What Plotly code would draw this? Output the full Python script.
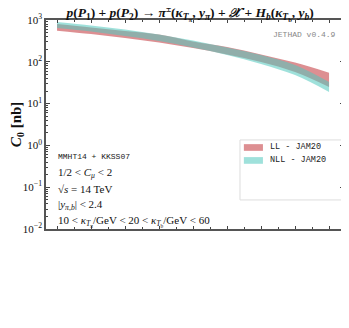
import plotly.graph_objects as go

# rapidity separation (x axis, labels not shown in the reference)
dy = [1.0, 1.5, 2.0, 2.5, 3.0, 3.5, 4.0, 4.5, 5.0]

# C0 bands [nb]
ll_upper = [802, 662, 546, 450, 306, 226, 150, 96, 55]
ll_lower = [555, 462, 371, 290, 214, 150, 99, 57, 25]
nll_upper = [896, 738, 593, 450, 323, 220, 146, 84, 33]
nll_lower = [644, 531, 414, 315, 220, 146, 89, 48, 19]

series_names = ["LL - JAM20", "NLL - JAM20"]

y_tickvals = [1e-2, 1e-1, 1, 10, 100, 1000]
y_ticktext = ["10<sup>−2</sup>", "10<sup>−1</sup>", "10<sup>0</sup>",
              "10<sup>1</sup>", "10<sup>2</sup>", "10<sup>3</sup>"]

info_lines = [
    "1/2 < <i>C<sub>μ</sub></i> < 2",
    "√<i>s</i> = 14 TeV",
    "|<i>y</i><sub><i>π</i>,<i>b</i></sub>| < 2.4",
    "10 < <i>κ</i><sub><i>T</i><sub>π</sub></sub>/GeV < 20 < <i>κ</i><sub><i>T</i><sub>b</sub></sub>/GeV < 60",
]

SERIF = "Liberation Serif"
MONO = "Liberation Mono"
RED = "rgba(205,90,95,0.68)"
TEAL = "rgba(80,200,190,0.55)"
colors = [RED, TEAL]

fig = go.Figure()
for name, up, lo, col in zip(series_names, [ll_upper, nll_upper], [ll_lower, nll_lower], colors):
    fig.add_trace(go.Scatter(x=dy, y=lo, mode="lines", line=dict(width=0, shape="spline"),
                             showlegend=False, hoverinfo="skip"))
    fig.add_trace(go.Scatter(x=dy, y=up, mode="lines", line=dict(width=0, shape="spline"),
                             fill="tonexty", fillcolor=col, name=name, showlegend=False))

fig.add_annotation(text="MMHT14 + KKSS07", x=0.035, y=0.345, xref="paper", yref="paper",
                   xanchor="left", yanchor="middle", showarrow=False,
                   font=dict(family=MONO, size=8, color="#222"))
for i, t in enumerate(info_lines):
    fig.add_annotation(text=t, x=0.035, y=0.268 - i * 0.077, xref="paper", yref="paper",
                       xanchor="left", yanchor="middle", showarrow=False,
                       font=dict(family=SERIF, size=11, color="#111"))

fig.add_annotation(text="JETHAD v0.4.9", x=0.98, y=0.93, xref="paper", yref="paper",
                   xanchor="right", yanchor="middle", showarrow=False,
                   font=dict(family=MONO, size=8, color="#888"))

# hand-drawn legend (frame, swatches, labels)
fig.add_shape(type="rect", xref="paper", yref="paper", x0=0.651, x1=0.993, y0=0.139, y1=0.426,
              line=dict(color="#dddddd", width=1), fillcolor="white", layer="below")
for i, (name, col) in enumerate(zip(series_names, colors)):
    yc = 0.39 - i * 0.062
    fig.add_shape(type="rect", xref="paper", yref="paper", x0=0.664, x1=0.728,
                  y0=yc - 0.016, y1=yc + 0.016, line=dict(width=0), fillcolor=col)
    fig.add_annotation(text=name, x=0.745, y=yc, xref="paper", yref="paper",
                       xanchor="left", yanchor="middle", showarrow=False,
                       font=dict(family=MONO, size=8.5, color="#222"))

axis_common = dict(showline=True, linecolor="#555", linewidth=1.5, mirror="ticks",
                   ticks="inside", showgrid=False, zeroline=False, automargin=False)

fig.update_layout(
    width=341, height=320,
    margin=dict(l=38, r=5, t=12, b=99),
    paper_bgcolor="white", plot_bgcolor="white",
    title=dict(text="<b><i>p</i>(<i>P</i><sub>1</sub>) + <i>p</i>(<i>P</i><sub>2</sub>) → "
                    "<i>π</i><sup>±</sup>(<i>κ</i><sub><i>T</i><sub>π</sub></sub>, <i>y</i><sub><i>π</i></sub>) + "
                    "<i>𝒳</i> + <i>H</i><sub><i>b</i></sub>(<i>κ</i><sub><i>T</i><sub>b</sub></sub>, <i>y</i><sub><i>b</i></sub>)</b>",
               x=0.534, xanchor="center", y=0.986, yanchor="middle",
               font=dict(family=SERIF, size=13.5, color="#111")),
    xaxis=dict(range=[0.838, 5.22], showticklabels=False, dtick=0.5, ticklen=3,
               minor=dict(ticks="inside", ticklen=2, dtick=0.25), **axis_common),
    yaxis=dict(type="log", range=[-2, 3], tickvals=y_tickvals, ticktext=y_ticktext, ticklen=4,
               minor=dict(ticks="inside", ticklen=2, dtick="D1"),
               tickfont=dict(family=SERIF, size=11, color="#111"),
               title=dict(text="<b><i>C</i><sub>0</sub> [nb]</b>", standoff=6,
                          font=dict(family=SERIF, size=15, color="#111")),
               **axis_common),
    showlegend=False,
)

fig.write_html("out.html")
